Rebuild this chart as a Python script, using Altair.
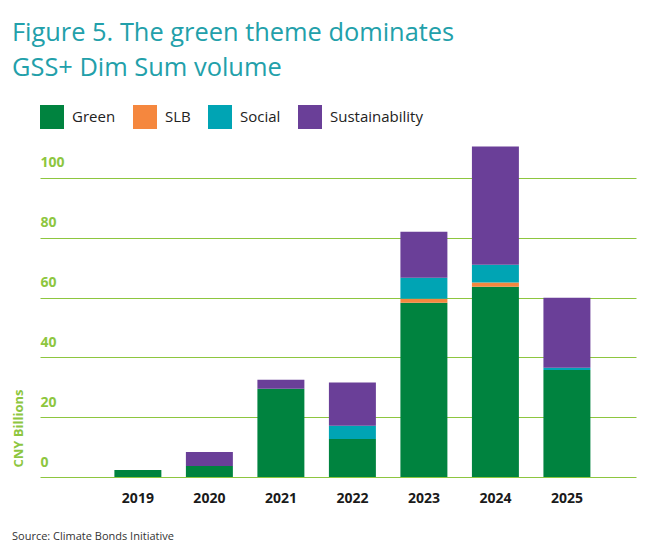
import altair as alt
import pandas as pd

years = ["2019", "2020", "2021", "2022", "2023", "2024", "2025"]
themes = ["Green", "SLB", "Social", "Sustainability"]
green = [2.3, 3.7, 29.5, 12.7, 58.3, 63.6, 35.8]
slb = [0.0, 0.0, 0.0, 0.0, 1.3, 1.4, 0.0]
social = [0.0, 0.0, 0.0, 4.4, 7.0, 6.0, 0.7]
sustainability = [0.0, 4.7, 3.0, 14.5, 15.4, 39.5, 23.4]
colors = ["#00833f", "#f5873e", "#00a4b4", "#6a3f98"]
y_ticks = [0, 20, 40, 60, 80, 100]

series = [green, slb, social, sustainability]
rows = []
for ti, (theme, vals) in enumerate(zip(themes, series)):
    for yr, v in zip(years, vals):
        rows.append({"year": yr, "theme": theme, "value": v, "order": ti})
df = pd.DataFrame(rows)

W, H = 596, 332
AXIS_GREEN = "#8dc63f"

bars = alt.Chart(df).mark_bar().encode(
    x=alt.X("year:N", sort=years,
            scale=alt.Scale(paddingInner=0.343, paddingOuter=0.839, align=0.62),
            axis=alt.Axis(title=None, labelAngle=0, labelFont="Open Sans", labelFontSize=14,
                          labelFontWeight="bold", labelColor="#1a1a1a", ticks=False,
                          domain=False, labelPadding=14, grid=False)),
    y=alt.Y("value:Q", stack="zero",
            scale=alt.Scale(domain=[0, 111], nice=False),
            axis=alt.Axis(title="CNY Billions", values=y_ticks, tickSize=0, ticks=False,
                          domain=False, labelAlign="left", labelPadding=0,
                          labelBaseline="middle", labelOffset=-15,
                          labelFont="Open Sans", labelFontSize=14, labelFontWeight="bold",
                          labelColor=AXIS_GREEN, grid=True, gridColor=AXIS_GREEN,
                          gridWidth=1, titleFont="Open Sans", titleFontSize=13,
                          titleFontWeight="bold", titleColor=AXIS_GREEN,
                          titleAngle=270, titleX=-22, titleY=322, titleAlign="left",
                          titleBaseline="middle")),
    color=alt.Color("theme:N", sort=themes,
                    scale=alt.Scale(domain=themes, range=colors),
                    legend=alt.Legend(title=None, orient="top", direction="horizontal",
                                      symbolType="square", symbolSize=576,
                                      symbolStrokeWidth=0, labelFont="Open Sans",
                                      labelFontSize=15, labelColor="#222222",
                                      labelOffset=8, columnPadding=17, offset=16,
                                      padding=0)),
    order=alt.Order("order:Q"),
)

source = alt.Chart(pd.DataFrame({"t": ["Source: Climate Bonds Initiative"]})).mark_text(
    align="left", baseline="alphabetic", font="Open Sans", fontSize=11, color="#333333"
).encode(text="t:N", x=alt.value(-28), y=alt.value(H + 63))

chart = alt.layer(bars, source).properties(
    width=W, height=H,
    padding={"top": 12, "left": 4, "right": 5, "bottom": 5},
    title=alt.Title(["Figure 5. The green theme dominates", "GSS+ Dim Sum volume"],
                    anchor="start", frame="bounds", font="Open Sans", fontSize=25.4,
                    fontWeight="normal", color="#22a0aa", lineHeight=35, offset=24),
).configure_view(stroke=None)

chart.save("out.html", embed_options={"renderer": "svg", "actions": False})
